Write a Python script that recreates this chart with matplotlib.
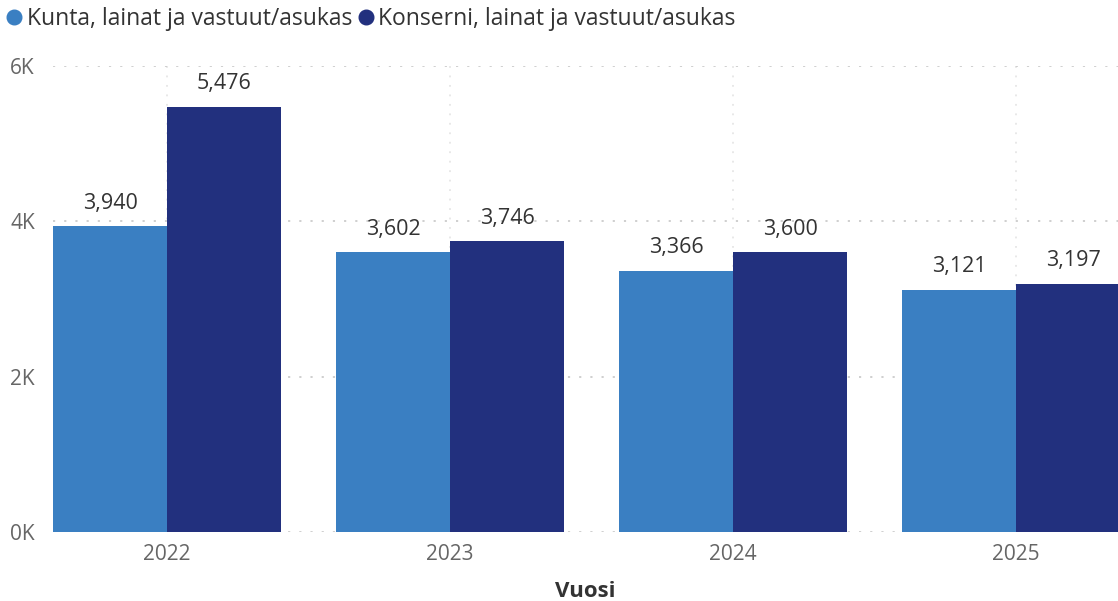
import matplotlib
matplotlib.use("Agg")
import matplotlib.pyplot as plt
from matplotlib.lines import Line2D
import numpy as np

years = ["2022", "2023", "2024", "2025"]
kunta = [3940, 3602, 3366, 3121]
konserni = [5476, 3746, 3600, 3197]
series_names = ["Kunta, lainat ja vastuut/asukas", "Konserni, lainat ja vastuut/asukas"]
yticks = [0, 2000, 4000, 6000]
ytick_labels = ["0K", "2K", "4K", "6K"]

c_light = "#3A7FC2"
c_dark = "#22307E"

plt.rcParams['font.family'] = ['Open Sans', 'DejaVu Sans']

fig = plt.figure(figsize=(11.18, 6.01), dpi=100)
ax = fig.add_axes([53/1118, (601-532)/601, 1 - 53/1118, 466/601])

x = np.arange(len(years))
w = 0.403
ax.bar(x - w/2, kunta, width=w, color=c_light, zorder=3)
ax.bar(x + w/2, konserni, width=w, color=c_dark, zorder=3)

for xi, v in zip(x - w/2, kunta):
    ax.text(xi, v + 160, f"{v:,}", ha="center", va="bottom", fontsize=15.5,
            color="#333333", zorder=4)
for xi, v in zip(x + w/2, konserni):
    ax.text(xi, v + 160, f"{v:,}", ha="center", va="bottom", fontsize=15.5,
            color="#333333", zorder=4)

ax.set_xlim(-0.403, 3.36)
ax.set_ylim(0, 6000)
ax.set_yticks(yticks)
ax.set_yticklabels(ytick_labels, fontsize=15, color="#666666")
ax.set_xticks(x)
ax.set_xticklabels(years, fontsize=15, color="#666666")
ax.tick_params(length=0)
ax.tick_params(axis="x", pad=9)
ax.tick_params(axis="y", pad=13)
for s in ax.spines.values():
    s.set_visible(False)
ax.grid(axis="y", color="#CCCCCC", linestyle=(0, (1.2, 5)), linewidth=1.3, zorder=0)
ax.grid(axis="x", color="#E2E2E2", linestyle=(0, (1.2, 5)), linewidth=1.1, zorder=0)
ax.set_axisbelow(True)
ax.set_xlabel("Vuosi", fontsize=16, fontweight="bold", color="#333333", labelpad=11)

handles = [Line2D([], [], marker="o", linestyle="", markersize=10.5, color=c_light),
           Line2D([], [], marker="o", linestyle="", markersize=10.5, color=c_dark)]
fig.legend(handles, series_names, loc="upper left", bbox_to_anchor=(-0.01, 1.012), ncol=2,
           frameon=False, fontsize=16.5, handletextpad=0.05, columnspacing=0.1,
           handlelength=1.0, labelcolor="#333333", borderaxespad=0.2)

fig.savefig("out.png", dpi=100)
